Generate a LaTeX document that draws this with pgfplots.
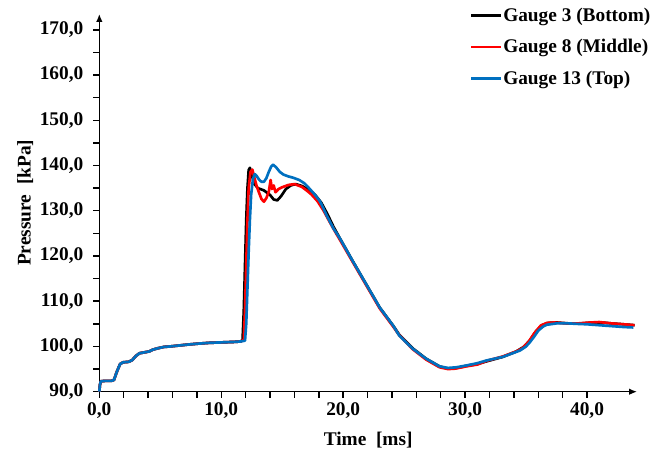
\documentclass[border=0pt]{standalone}
\usepackage{fontspec}
\setmainfont{Liberation Serif}
\usepackage{pgfplots}
\pgfplotsset{compat=1.18}
\usetikzlibrary{arrows.meta}
\definecolor{gblue}{RGB}{0,112,192}
\definecolor{gred}{RGB}{255,0,0}
\newcommand{\cf}{\bfseries\fontsize{14.5}{17}\selectfont}
\begin{document}
\begin{tikzpicture}
\path[use as bounding box] (-74.5pt,-46pt) rectangle (425.8pt,293.8pt);
\begin{axis}[
  at={(0,0)}, anchor=south west,
  scale only axis, width=403.3pt, height=283.3pt,
  axis lines=left,
  axis line style={line width=1.1pt, -{Latex[length=6pt,width=5pt]}},
  xmin=0, xmax=44.1, ymin=90, ymax=173.5,
  xtick={0,10,20,30,40}, minor x tick num=4,
  ytick={90,100,...,170}, minor y tick num=1,
  tick align=outside,
  major tick length=4.5pt, minor tick length=4.5pt,
  tick style={line width=1.1pt, black},
  ticklabel style={font=\cf},
  yticklabel style={xshift=-4pt},
  /pgf/number format/.cd, fixed, fixed zerofill, precision=1, use comma, assume math mode=true,
  /pgfplots/.cd,
  xlabel={Time~ [ms]}, ylabel={Pressure~ [kPa]},
  every axis x label/.style={at={(axis description cs:0.5,-0.128)}, anchor=center, font=\cf},
  every axis y label/.style={at={(axis description cs:-0.138,0.5)}, anchor=center, rotate=90, font=\cf},
  legend style={draw=none, fill=none, at={(axis description cs:0.689,1.02)}, anchor=north west,
    inner sep=0pt, row sep=10pt, font=\cf, nodes={inner sep=1pt}},
  legend cell align=left,
  legend image code/.code={\draw[#1] (0cm,0cm) -- (0.77cm,0cm);},
  clip=false,
  every axis plot/.append style={line width=2pt, line join=round},
]
\addplot[black] coordinates {
(0,90) (0.05,91.5) (0.12,92.3) (0.5,92.4) (1.0,92.4) (1.2,92.6) (1.45,94.5) (1.7,96.1) (1.95,96.5)
(2.4,96.6) (2.7,97.0) (3.0,97.9) (3.3,98.5) (3.7,98.7) (4.1,98.9) (4.4,99.3) (4.8,99.6) (5.3,99.9)
(5.8,100.0) (6.5,100.2) (7.2,100.4) (8.0,100.6) (9.0,100.8) (10.0,100.9) (11.0,101.0) (11.6,101.1)
(11.75,101.5) (11.85,108) (11.95,118) (12.05,128) (12.15,135) (12.25,139) (12.35,139.5) (12.5,138)
(12.7,136) (13.0,135) (13.5,134.5) (14.0,133.5) (14.3,132.5) (14.6,132.3) (14.9,133.2) (15.3,134.8)
(15.7,135.6) (16.1,135.9) (16.6,135.5) (17.2,134.6) (17.7,133.5) (18.2,131.8) (18.7,129.3) (19.2,126.5)
(19.73,123.9) (20.8,118.8) (21.9,113.7) (23.0,108.6) (24.1,104.6) (24.6,102.6) (25.7,99.6) (26.8,97.3)
(27.9,95.6) (28.6,95.1) (29.2,95.2) (30.1,95.7) (31.0,96.1) (31.75,96.7) (33.1,97.7) (34.2,98.9)
(34.8,99.9) (35.3,101.3) (35.8,103.3) (36.3,104.7) (36.8,105.2) (37.5,105.3) (38.5,105.1) (39.5,105.1)
(40.5,105.3) (41.2,105.3) (42.0,105.1) (43.0,104.9) (43.9,104.7)
};
\addlegendentry{Gauge 3 (Bottom)}
\addplot[gred] coordinates {
(0,90) (0.05,91.5) (0.12,92.3) (0.5,92.4) (1.0,92.4) (1.2,92.6) (1.45,94.5) (1.7,96.1) (1.95,96.5)
(2.4,96.6) (2.7,97.0) (3.0,97.9) (3.3,98.5) (3.7,98.7) (4.1,98.9) (4.4,99.3) (4.8,99.6) (5.3,99.9)
(5.8,100.0) (6.5,100.2) (7.2,100.4) (8.0,100.6) (9.0,100.8) (10.0,100.9) (11.0,101.0) (11.6,101.1)
(11.85,101.5) (11.95,108) (12.05,118) (12.15,128) (12.25,135) (12.4,138.6) (12.55,139.1) (12.7,137.5)
(12.9,135.5) (13.1,134.0) (13.3,132.6) (13.5,132.0) (13.7,132.8) (13.9,134.2) (14.05,136.8) (14.15,134.8)
(14.3,135.6) (14.45,134.1) (14.7,134.8) (15.0,135.2) (15.5,135.7) (16.0,135.9) (16.6,135.3) (17.0,134.5)
(17.4,133.6) (17.9,132.1) (18.4,130.0) (18.9,127.5) (19.4,125.1) (19.73,123.6) (20.8,118.6) (21.9,113.5)
(23.0,108.4) (24.1,104.4) (24.6,102.5) (25.7,99.4) (26.8,97.1) (27.9,95.4) (28.6,95.0) (29.2,95.1)
(30.1,95.6) (31.0,96.0) (31.75,96.8) (33.1,97.8) (34.2,98.9) (34.7,99.6) (35.2,101.0) (35.7,103.0)
(36.2,104.6) (36.7,105.2) (37.3,105.3) (38.3,105.1) (39.3,105.1) (40.3,105.3) (41.0,105.4) (42.0,105.1)
(43.0,104.9) (43.9,104.7)
};
\addlegendentry{Gauge 8 (Middle)}
\addplot[gblue] coordinates {
(0,90) (0.05,91.5) (0.12,92.3) (0.5,92.4) (1.0,92.4) (1.2,92.6) (1.45,94.5) (1.7,96.1) (1.95,96.5)
(2.4,96.6) (2.7,97.0) (3.0,97.9) (3.3,98.5) (3.7,98.7) (4.1,98.9) (4.4,99.3) (4.8,99.6) (5.3,99.9)
(5.8,100.0) (6.5,100.2) (7.2,100.4) (8.0,100.6) (9.0,100.8) (10.0,100.9) (11.0,101.0) (11.6,101.1)
(11.95,101.3) (12.05,105) (12.15,113) (12.25,121) (12.35,128) (12.45,133.5) (12.6,137) (12.75,138.1)
(12.9,137.7) (13.1,136.9) (13.3,136.4) (13.5,136.4) (13.7,137.2) (13.9,138.6) (14.1,139.8) (14.25,140.2)
(14.5,139.6) (14.8,138.6) (15.1,138.0) (15.5,137.6) (15.9,137.3) (16.4,136.8) (16.8,136.1) (17.2,135.0)
(17.6,133.8) (18.1,132.1) (18.64,129.0) (19.2,126.1) (19.73,123.9) (20.8,118.8) (21.9,113.7) (23.0,108.6)
(24.1,104.6) (24.6,102.4) (25.7,99.5) (26.8,97.3) (27.9,95.6) (28.6,95.25) (29.3,95.4) (30.1,95.8)
(31.0,96.3) (31.75,96.9) (33.1,97.7) (33.7,98.3) (34.5,99.1) (35.0,100.0) (35.3,100.9) (35.7,102.3)
(36.0,103.5) (36.4,104.4) (36.7,104.8) (37.5,105.1) (38.5,105.1) (39.1,105.0) (40.0,104.9) (41.0,104.7)
(42.0,104.5) (43.0,104.3) (43.8,104.2)
};
\addlegendentry{Gauge 13 (Top)}
\end{axis}
\end{tikzpicture}
\end{document}
